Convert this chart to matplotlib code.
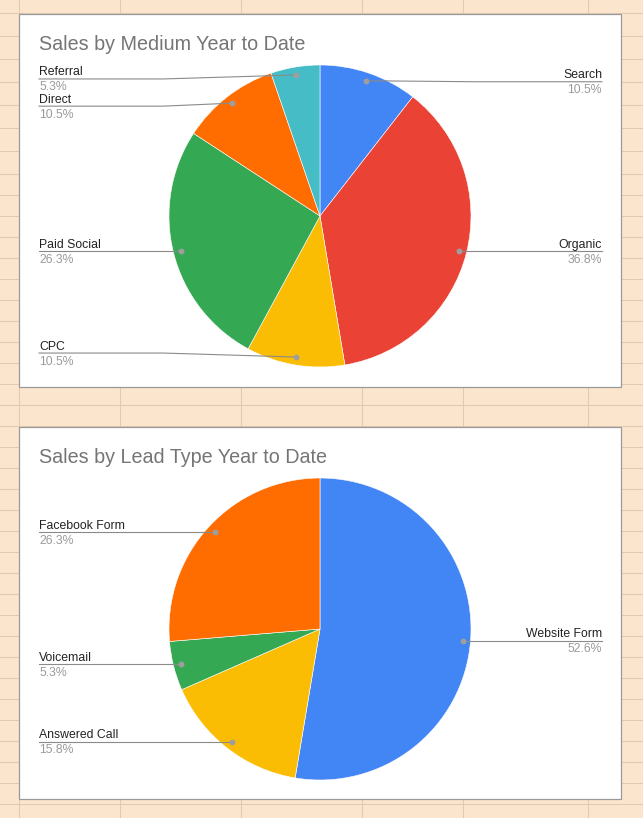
import matplotlib
matplotlib.use('Agg')
import matplotlib.pyplot as plt
from matplotlib.patches import Rectangle
import numpy as np

plt.rcParams['font.family'] = ['Liberation Sans', 'DejaVu Sans']

# ---------------- data ----------------
medium_labels = ['Search', 'Organic', 'CPC', 'Paid Social', 'Direct', 'Referral']
medium_values = [2, 7, 2, 5, 2, 1]
medium_colors = ['#4285F4', '#EA4335', '#FBBC04', '#34A853', '#FF6D01', '#46BDC6']

lead_labels = ['Website Form', 'Answered Call', 'Voicemail', 'Facebook Form']
lead_values = [10, 3, 1, 5]
lead_colors = ['#4285F4', '#FBBC04', '#34A853', '#FF6D01']

titles = ['Sales by Medium Year to Date', 'Sales by Lead Type Year to Date']

# ---------------- layout (pixels, y measured from top) ----------------
W, H = 643, 818
def Y(py):
    return H - py

col_x = [18.5, 119.7, 240.7, 361.6, 462.5, 588.4]
row_y = [13.3, 36.3, 59.3, 82.3, 105.3, 128.3, 151.3] + list(np.arange(174.3, 818, 21.0))

panels = [(19, 14, 621, 386.5), (19, 427.3, 621, 799)]
pie_centers = [(320, 216), (320, 629)]
pie_radius = 151
title_base = [50, 463]
label_nudge = [[1, 0, -4, 0, 3, 4], [0, 0, 0, 0]]
left_x, right_x = 39, 602
knee_left, knee_right = 163, 477

bg = '#fce5cd'
gridc = '#e2cab2'

fig = plt.figure(figsize=(6.43, 8.18), dpi=100)
ax = fig.add_axes([0, 0, 1, 1])

ax.add_patch(Rectangle((0, 0), W, H, facecolor=bg, edgecolor='none', zorder=0))
for x in col_x:
    ax.plot([x, x], [0, H], color=gridc, lw=0.75, zorder=0.5)
for y in row_y:
    ax.plot([0, W], [Y(y), Y(y)], color=gridc, lw=0.75, zorder=0.5)

charts = [(medium_labels, medium_values, medium_colors),
          (lead_labels, lead_values, lead_colors)]

for i, (labels, values, colors) in enumerate(charts):
    x0, y0, x1, y1 = panels[i]
    ax.add_patch(Rectangle((x0, Y(y1)), x1 - x0, y1 - y0, facecolor='white',
                           edgecolor='#9a9a9a', lw=0.9, zorder=1))
    ax.text(39, Y(title_base[i]), titles[i], fontsize=14.25, color='#757575',
            ha='left', va='baseline', zorder=5)
    cx, cy = pie_centers[i]
    wedges, _ = ax.pie(values, colors=colors, startangle=90, counterclock=False,
                       center=(cx, Y(cy)), radius=pie_radius,
                       wedgeprops=dict(edgecolor='white', linewidth=0.4))
    for w in wedges:
        w.set_zorder(3)
    total = float(sum(values))
    for j, w in enumerate(wedges):
        mid = np.deg2rad((w.theta1 + w.theta2) / 2.0)
        dx = cx + 0.947 * pie_radius * np.cos(mid)
        dy_up = Y(cy) + 0.947 * pie_radius * np.sin(mid)
        dot_py = H - dy_up
        ly = dot_py + label_nudge[i][j]
        pct = f"{values[j] / total * 100:.1f}%"
        if dx < cx:
            xs = [left_x, knee_left, dx]
            tx, ha = left_x, 'left'
        else:
            xs = [right_x, knee_right, dx]
            tx, ha = right_x, 'right'
        ax.plot(xs, [Y(ly), Y(ly), dy_up], color='#8a8a8a', lw=0.8, zorder=4)
        ax.plot([dx], [dy_up], 'o', ms=3.2, color='#9e9e9e', zorder=4.5)
        ax.text(tx, Y(ly - 3.5), labels[j], fontsize=8.8, color='#222222',
                ha=ha, va='baseline', zorder=5)
        ax.text(tx, Y(ly + 11.5), pct, fontsize=8.8, color='#9a9a9a',
                ha=ha, va='baseline', zorder=5)

ax.set_xlim(0, W)
ax.set_ylim(0, H)
ax.set_aspect('auto')
ax.set_axis_off()

fig.savefig('out.png', dpi=100)
